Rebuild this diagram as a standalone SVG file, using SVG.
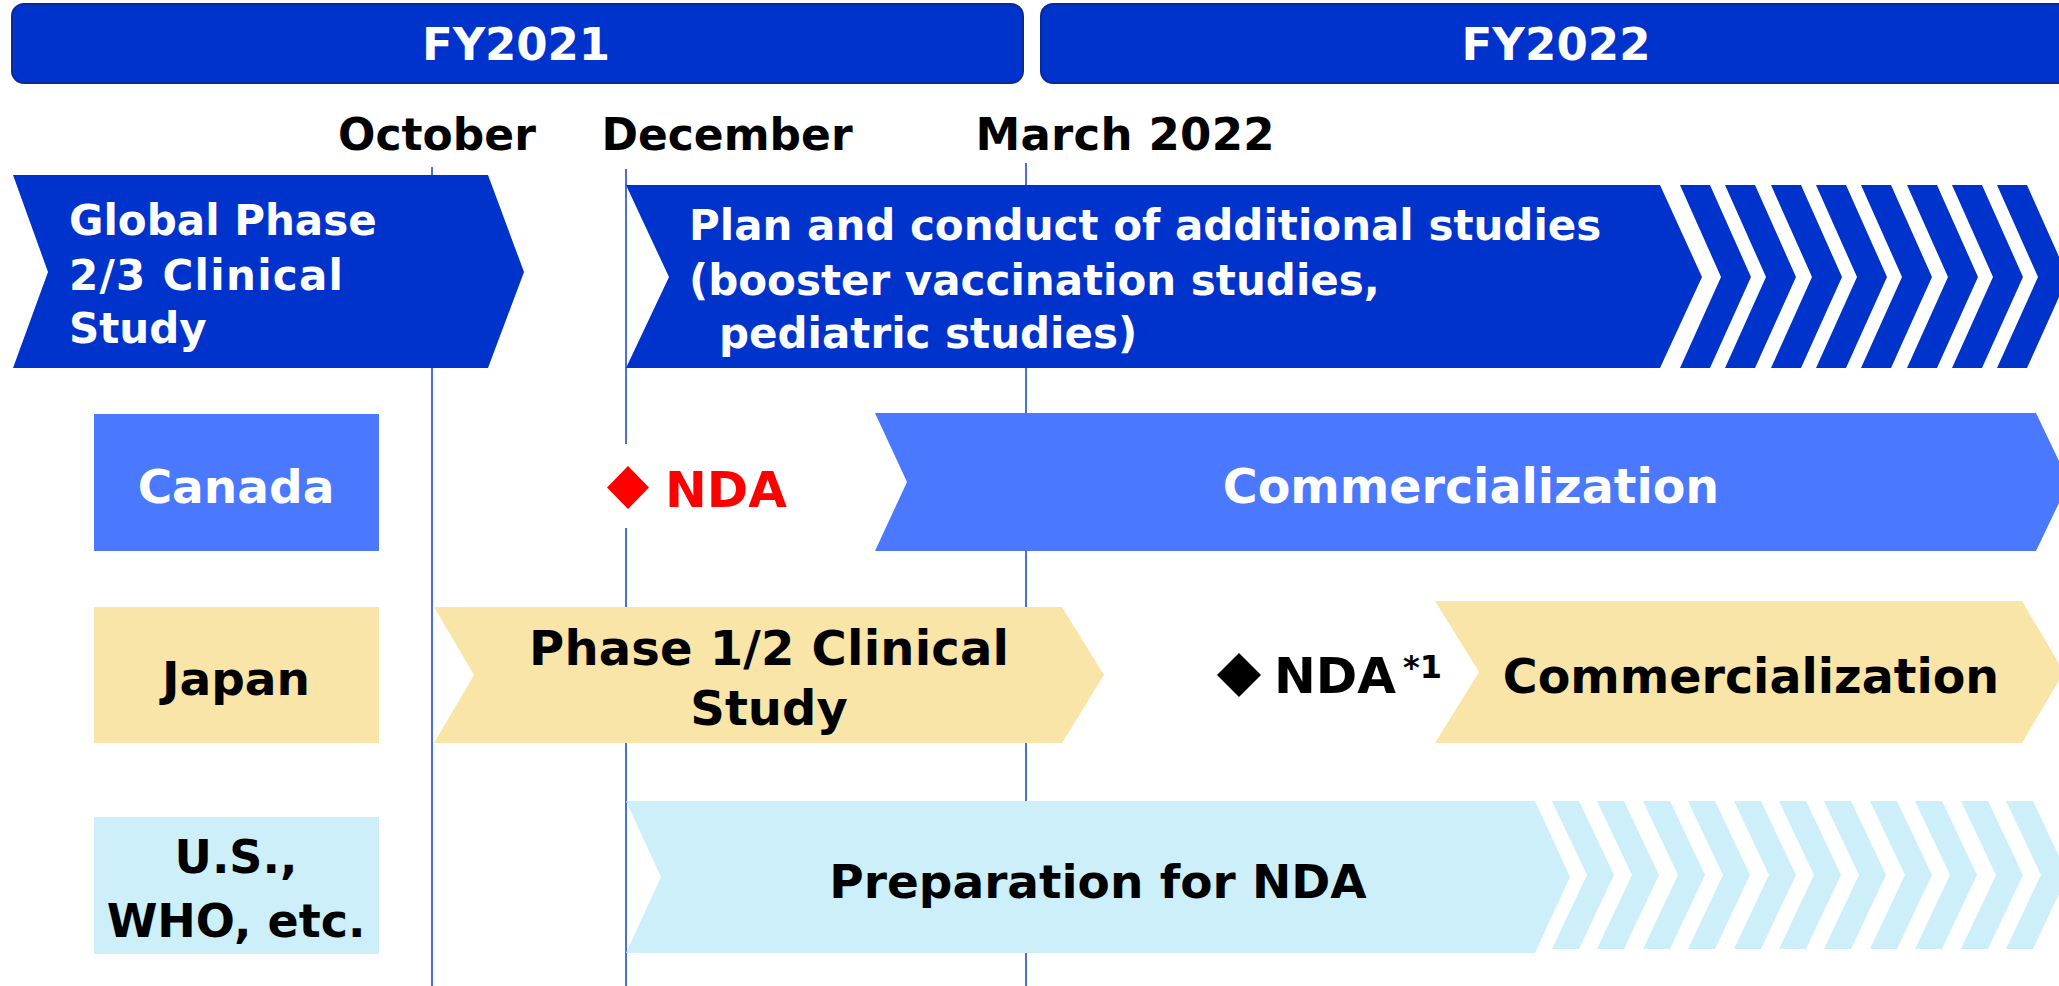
<svg xmlns="http://www.w3.org/2000/svg" xmlns:xlink="http://www.w3.org/1999/xlink" width="2059" height="986" viewBox="0 0 2059 986">
<style>
text{font-family:"DejaVu Sans",Verdana,sans-serif;font-weight:bold}
.w{fill:#ffffff}
.k{fill:#000000}
.r{fill:#ff0000}
.m{text-anchor:middle}
.hdr{fill:#0033cc;stroke:#0a2a9a;stroke-width:2}
.navy{fill:#0033cc}
.sky{fill:#4a78ff}
.sand{fill:#fae5a8}
.ice{fill:#cceff9}
.vline{stroke:#4a6ee0;stroke-width:2;fill:none}
</style>
<defs>
<polygon id="stripeA" points="0,185 30,185 71,277 30,368 0,368 41,277"/>
<polygon id="stripeB" points="0,801 27,801 62,875 27,949 0,949 35,875"/>
</defs>
<g id="connectors">
<line class="vline" x1="432" y1="167" x2="432" y2="986"/>
<line class="vline" x1="626" y1="169" x2="626" y2="444"/>
<line class="vline" x1="626" y1="528" x2="626" y2="986"/>
<line class="vline" x1="1026" y1="163" x2="1026" y2="986"/>
</g>
<g id="fy2021">
<rect class="hdr" x="12" y="4" width="1011" height="79" rx="12"/>
<text class="w m" x="516" y="60" font-size="45" textLength="188">FY2021</text>
</g>
<g id="fy2022">
<rect class="hdr" x="1041" y="4" width="1040" height="79" rx="12"/>
<text class="w m" x="1556" y="60" font-size="45" textLength="189">FY2022</text>
</g>
<g id="months">
<text class="k m" x="437" y="150" font-size="44">October</text>
<text class="k m" x="727" y="150" font-size="44">December</text>
<text class="k m" x="1125" y="150" font-size="45" textLength="299">March 2022</text>
</g>
<g id="global-phase">
<polygon class="navy" points="13,175 488,175 524,272 488,368 13,368 48,272"/>
<text class="w" x="69" y="235" font-size="42">Global Phase</text>
<text class="w" x="69" y="290" font-size="42" textLength="274">2/3 Clinical</text>
<text class="w" x="69" y="343" font-size="42">Study</text>
</g>
<g id="additional-studies">
<polygon class="navy" points="626,185 1660,185 1702,277 1660,368 626,368 669,277"/>
<g class="navy">
<use xlink:href="#stripeA" x="1680"/>
<use xlink:href="#stripeA" x="1725"/>
<use xlink:href="#stripeA" x="1771"/>
<use xlink:href="#stripeA" x="1816"/>
<use xlink:href="#stripeA" x="1861"/>
<use xlink:href="#stripeA" x="1907"/>
<use xlink:href="#stripeA" x="1952"/>
<use xlink:href="#stripeA" x="1997"/>
</g>
<text class="w" x="689" y="240" font-size="42">Plan and conduct of additional studies</text>
<text class="w" x="689" y="295" font-size="42">(booster vaccination studies,</text>
<text class="w" x="719" y="348" font-size="42">pediatric studies)</text>
</g>
<g id="canada">
<rect class="sky" x="94" y="414" width="285" height="137"/>
<text class="w m" x="236" y="503" font-size="47">Canada</text>
</g>
<g id="canada-nda">
<polygon class="r" points="628,466 649,487.5 628,509 607,487.5"/>
<text class="r" x="665" y="507" font-size="50">NDA</text>
</g>
<g id="canada-commercialization">
<polygon class="sky" points="875,413 2036,413 2069,482 2036,551 875,551 907,482"/>
<text class="w m" x="1471" y="503" font-size="47.5">Commercialization</text>
</g>
<g id="japan">
<rect class="sand" x="94" y="607" width="285" height="136"/>
<text class="k m" x="236" y="695" font-size="47">Japan</text>
</g>
<g id="japan-phase12">
<polygon class="sand" points="434,607 1062,607 1104,675 1062,743 434,743 474,675"/>
<text class="k m" x="769" y="665" font-size="48" textLength="480">Phase 1/2 Clinical</text>
<text class="k m" x="769" y="725" font-size="48">Study</text>
</g>
<g id="japan-nda">
<polygon class="k" points="1239,653 1261,675 1239,697 1217,675"/>
<text class="k" x="1274" y="693" font-size="50">NDA</text>
<text class="k" x="1403" y="678" font-size="32">*1</text>
</g>
<g id="japan-commercialization">
<polygon class="sand" points="1435,601 2022,601 2064,672 2022,743 1435,743 1479,672"/>
<text class="k m" x="1751" y="693" font-size="47.5">Commercialization</text>
</g>
<g id="us-who">
<rect class="ice" x="94" y="817" width="285" height="137"/>
<text class="k m" x="236" y="873" font-size="46">U.S.,</text>
<text class="k m" x="236" y="937" font-size="46">WHO, etc.</text>
</g>
<g id="us-preparation">
<polygon class="ice" points="626,801 1535,801 1570,877 1535,953 626,953 661,877"/>
<g class="ice">
<use xlink:href="#stripeB" x="1552"/>
<use xlink:href="#stripeB" x="1597"/>
<use xlink:href="#stripeB" x="1643"/>
<use xlink:href="#stripeB" x="1688"/>
<use xlink:href="#stripeB" x="1734"/>
<use xlink:href="#stripeB" x="1779"/>
<use xlink:href="#stripeB" x="1824"/>
<use xlink:href="#stripeB" x="1870"/>
<use xlink:href="#stripeB" x="1915"/>
<use xlink:href="#stripeB" x="1961"/>
<use xlink:href="#stripeB" x="2006"/>
</g>
<text class="k m" x="1098" y="898" font-size="47">Preparation for NDA</text>
</g>
</svg>
